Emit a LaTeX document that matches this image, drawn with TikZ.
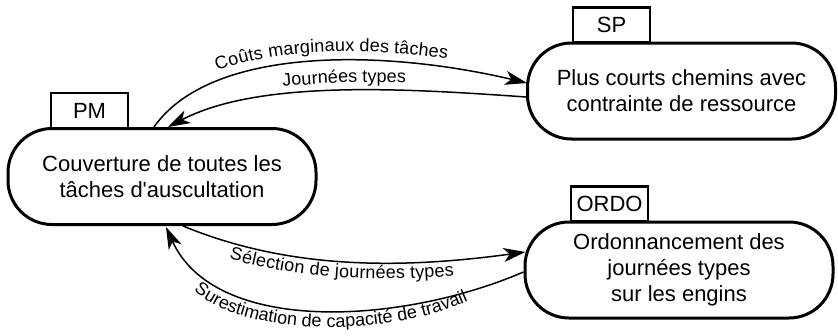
\documentclass[tikz,border=0pt]{standalone}
\usepackage{fontspec}
\setmainfont{Liberation Sans}
\usetikzlibrary{arrows.meta,decorations.text,calc}
\newcommand{\lblfont}{\fontsize{18}{18}\selectfont}
\begin{document}
\begin{tikzpicture}[x=1pt,y=-1pt,
  proc/.style={draw, fill=white, line width=3pt, rounded corners=44pt, minimum width=308pt, minimum height=96pt, align=center, inner sep=0pt, font=\fontsize{22}{26}\selectfont},
  tabbox/.style={draw, fill=white, line width=2.5pt, minimum width=77pt, minimum height=35pt, inner sep=0pt, font=\fontsize{22}{26}\selectfont},
  conn/.style={line width=1.5pt, -{Stealth[length=22pt,width=14pt,inset=6pt]}},
]
\useasboundingbox (0,0) rectangle (838,335);

% tabs
\node[tabbox] (pmtab) at (89.5,110.5) {PM};
\node[tabbox] (sptab) at (611.5,25) {SP};
\node[tabbox] (ordotab) at (609.5,204) {ORDO};

% main nodes
\node[proc] (pm) at (162,176.5) {Couverture de toutes les\\tâches d\textquotesingle auscultation};
\node[proc] (sp) at (681.5,91) {Plus courts chemins avec\\contrainte de ressource};
\node[proc] (ordo) at (679,270) {Ordonnancement des\\journées types\\sur les engins};

% connector end points
\coordinate (e1s) at ($(pm.north)+(-8,0)$);
\coordinate (e1e) at ($(sp.west)+(1,-8)$);
\coordinate (e2s) at ($(sp.west)+(0,6)$);
\coordinate (e2e) at ($(pm.north)+(6,0)$);
\coordinate (e3s) at ($(pm.south)+(21,0)$);
\coordinate (e3e) at ($(ordo.west)+(2,-18)$);
\coordinate (e4s) at ($(ordo.west)+(0,2)$);
\coordinate (e4e) at ($(pm.south)+(4,1)$);

% connectors
\draw[conn] (e1s) .. controls (211,46) and (383,49) .. (e1e);
\draw[conn] (e2s) .. controls (400,88) and (258,80) .. (e2e);
\draw[conn] (e3s) .. controls (285,268) and (394,270) .. (e3e);
\draw[conn] (e4s) .. controls (400,325) and (215,335) .. (e4e);

% labels along the connectors
\path[decorate, decoration={text along path, text align=center, raise=9pt,
  text={|\lblfont|Coûts marginaux des tâches}}]
  (e1s) .. controls (211,46) and (383,49) .. (e1e);
\path[decorate, decoration={text along path, text align=center, raise=8pt,
  text={|\lblfont|Journées types}}]
  (e2e) .. controls (258,80) and (400,88) .. (e2s);
\path[decorate, decoration={text along path, text align={align=center, right indent=20pt}, raise=-16pt,
  text={|\lblfont|Sélection de journées types}}]
  (e3s) .. controls (285,268) and (394,270) .. (e3e);
\path[decorate, decoration={text along path, text align=center,
  text={|\lblfont|Surestimation de capacité de travail}}]
  (178,272) .. controls (220,345) and (410,340) .. (490,290);
\end{tikzpicture}
\end{document}
